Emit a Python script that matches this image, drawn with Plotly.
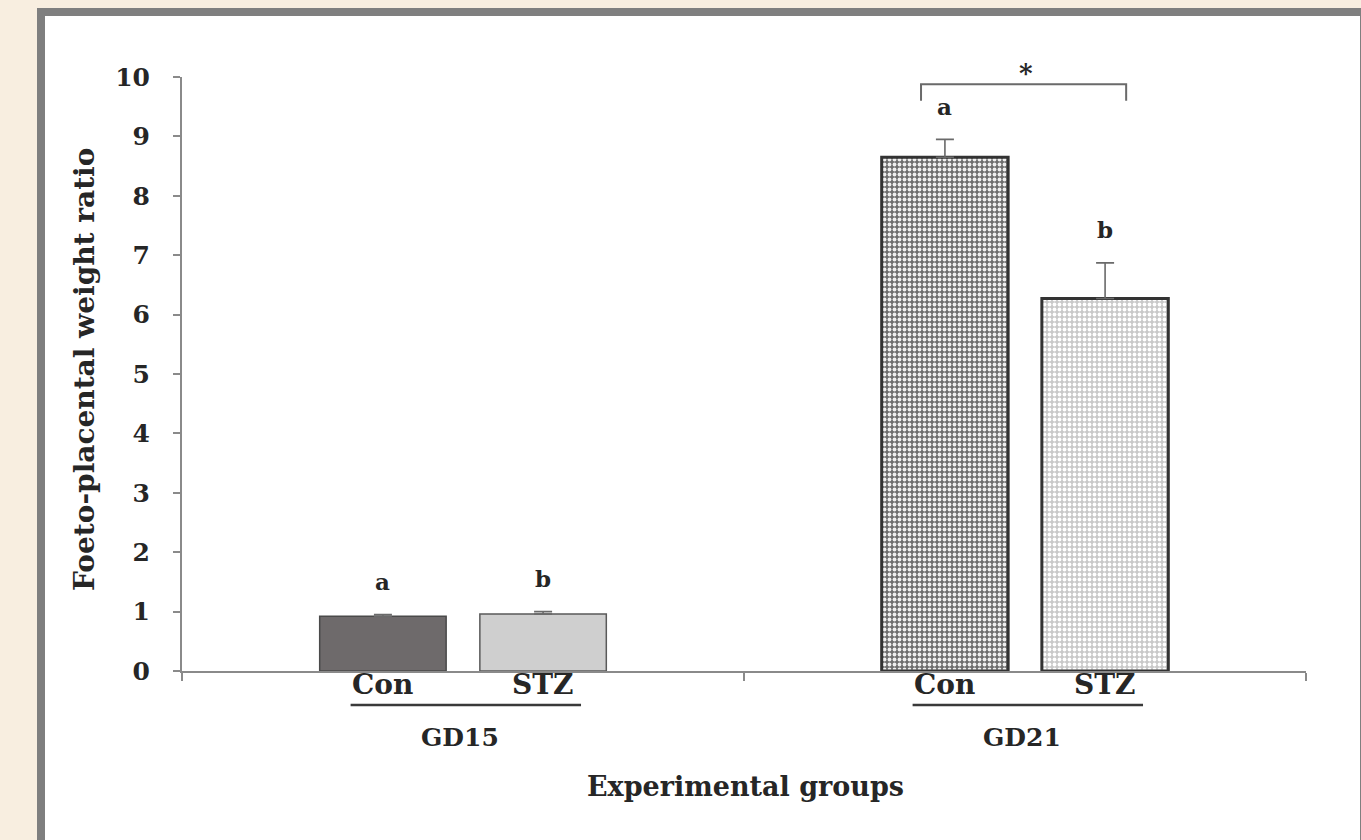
import plotly.graph_objects as go

# Foeto-placental weight ratio by gestational day and treatment
groups = ["GD15", "GD21"]
treatments = ["Con", "STZ"]
ratio_gd15 = [0.92, 0.96]
ratio_gd21 = [8.65, 6.27]
err_gd15 = [0.03, 0.04]
err_gd21 = [0.30, 0.60]
letters = ["a", "b"]
y_ticks = [0, 1, 2, 3, 4, 5, 6, 7, 8, 9, 10]

W, H = 1361, 840
SERIF = "DejaVu Serif"
INK = "#262626"

group_pos = [1.0, 3.0]
offset = 0.285
bar_w = 0.45


def py(p):
    """pixel row -> paper y"""
    return 1 - p / H


def px(p):
    return p / W


styles = {
    ("GD15", "Con"): dict(color="#6e6a6b", line=dict(color="#4a4a4a", width=1.5)),
    ("GD15", "STZ"): dict(color="#cfcfcf", line=dict(color="#5a5a5a", width=1.5)),
    ("GD21", "Con"): dict(color="#8a8a8a",
                          pattern=dict(shape=".", fgcolor="#f0f0f0", bgcolor="#6e6e6e",
                                       size=5, solidity=0.45, fillmode="replace"),
                          line=dict(color="#333333", width=3)),
    ("GD21", "STZ"): dict(color="#d8d8d8",
                          pattern=dict(shape=".", fgcolor="#ffffff", bgcolor="#c8c8c8",
                                       size=5, solidity=0.45, fillmode="replace"),
                          line=dict(color="#333333", width=3)),
}

fig = go.Figure()
annotations = []
shapes = []

# Panel frame
shapes.append(dict(type="rect", xref="paper", yref="paper",
                   x0=px(41), x1=px(1364), y0=py(845), y1=py(12),
                   fillcolor="white", line=dict(color="#7f7f7f", width=8), layer="below"))

for gi, (g, vals, errs) in enumerate([("GD15", ratio_gd15, err_gd15),
                                      ("GD21", ratio_gd21, err_gd21)]):
    for ti, t in enumerate(treatments):
        xc = group_pos[gi] + (-offset if ti == 0 else offset)
        st = styles[(g, t)]
        marker = dict(color=st["color"], line=st["line"])
        if "pattern" in st:
            marker["pattern"] = st["pattern"]
        fig.add_trace(go.Bar(
            x=[xc], y=[vals[ti]], width=[bar_w], marker=marker,
            error_y=dict(type="data", array=[errs[ti]], arrayminus=[0], symmetric=False,
                         color="#6a6a6a", thickness=1.6, width=9),
            showlegend=False, hoverinfo="skip"))
        # significance letter
        annotations.append(dict(x=xc, y=vals[ti] + errs[ti] + 0.3, xref="x", yref="y",
                                text=letters[ti], showarrow=False, yanchor="bottom",
                                font=dict(family=SERIF, size=23, color=INK, weight="bold")))
        # treatment label
        annotations.append(dict(x=xc, y=py(703), xref="x", yref="paper", text=t,
                                showarrow=False,
                                font=dict(family=SERIF, size=28, color=INK, weight="bold")))
    # underline below treatment labels and group name
    shapes.append(dict(type="line", xref="x", yref="paper",
                       x0=group_pos[gi] - 0.40, x1=group_pos[gi] + 0.42,
                       y0=py(705), y1=py(705), line=dict(color="#3a3a3a", width=2.5)))
    annotations.append(dict(x=group_pos[gi] - 0.01, y=py(754), xref="x", yref="paper", text=g,
                            showarrow=False,
                            font=dict(family=SERIF, size=25, color=INK, weight="bold")))

# Significance bracket over GD21
bx0, bx1 = 2.63, 3.36
shapes.append(dict(type="path", xref="x", yref="y",
                   path=f"M {bx0},9.60 L {bx0},9.88 L {bx1},9.88 L {bx1},9.60",
                   line=dict(color="#6a6a6a", width=2)))
annotations.append(dict(x=(bx0 + bx1) / 2 + 0.01, y=py(56), xref="x", yref="paper", text="*",
                        showarrow=False,
                        font=dict(family=SERIF, size=26, color=INK, weight="bold")))

# Axis titles
annotations.append(dict(x=px(745), y=py(804), xref="paper", yref="paper",
                        text="Experimental groups", showarrow=False,
                        font=dict(family=SERIF, size=27, color=INK, weight="bold")))
annotations.append(dict(x=px(84), y=py(370), xref="paper", yref="paper",
                        xanchor="center", yanchor="middle",
                        text="Foeto-placental weight ratio", textangle=-90, showarrow=False,
                        font=dict(family=SERIF, size=28, color=INK, weight="bold")))

fig.update_layout(
    width=W, height=H,
    margin=dict(l=0, r=0, t=0, b=0, pad=0),
    paper_bgcolor="#f8eee0",
    plot_bgcolor="rgba(0,0,0,0)",
    barmode="overlay",
    shapes=shapes,
    annotations=annotations,
    xaxis=dict(domain=[px(182), px(1306)], range=[0, 4], automargin=False,
               tickvals=[0, 2, 4], ticktext=["", "", ""], ticks="outside",
               ticklen=8, tickwidth=2, tickcolor="#8a8a8a",
               showline=True, linecolor="#8a8a8a", linewidth=2,
               showgrid=False, zeroline=False, fixedrange=True),
    yaxis=dict(domain=[py(671), py(77)], range=[0, 10], automargin=False,
               tickvals=y_ticks, ticks="outside", ticklen=7, tickwidth=2,
               tickcolor="#8a8a8a", showline=True, linecolor="#8a8a8a", linewidth=2,
               showgrid=False, zeroline=False, ticklabelstandoff=18,
               tickfont=dict(family=SERIF, size=25, color=INK, weight="bold")),
)

fig.write_html("out.html")
